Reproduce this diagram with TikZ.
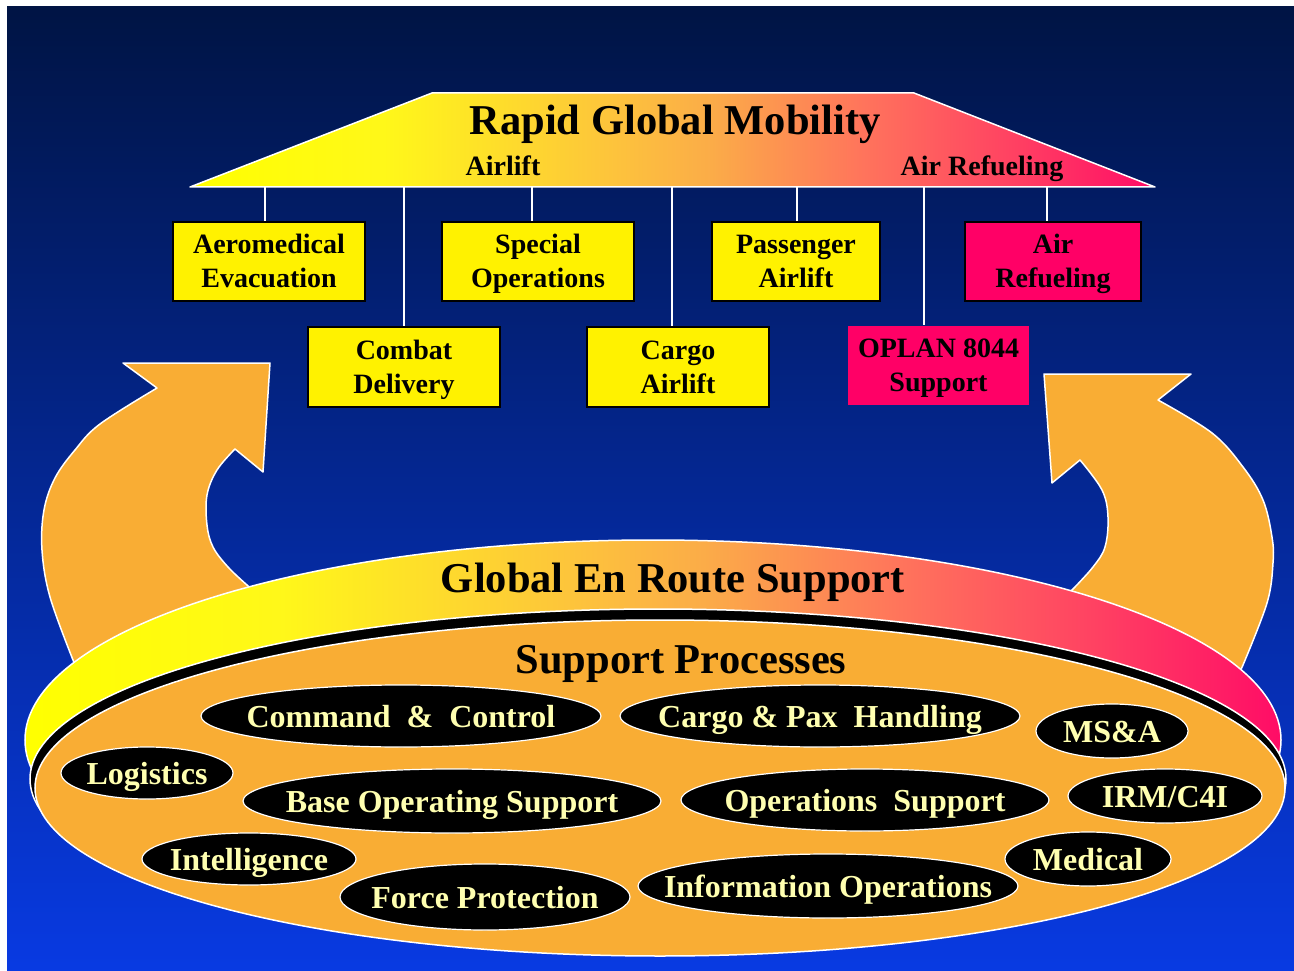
\documentclass[tikz,border=0pt]{standalone}
\usepackage{fontspec}
\setmainfont{Liberation Serif}
\usetikzlibrary{shapes.geometric}
\definecolor{bgtop}{RGB}{0,20,68}
\definecolor{bgbot}{RGB}{8,58,226}
\definecolor{orng}{RGB}{249,173,52}
\definecolor{pinkc}{RGB}{255,0,102}
\definecolor{cream}{RGB}{255,255,176}
\definecolor{gA}{RGB}{255,255,0}
\definecolor{gB}{RGB}{255,248,25}
\definecolor{gC}{RGB}{253,195,60}
\definecolor{gD}{RGB}{251,172,72}
\definecolor{gE}{RGB}{255,115,92}
\definecolor{gF}{RGB}{255,66,98}
\definecolor{gG}{RGB}{255,12,102}
\pgfdeclarehorizontalshading{warm}{100bp}{color(0bp)=(gA); color(25bp)=(gA); color(35bp)=(gB); color(47bp)=(gC); color(52bp)=(gD); color(60bp)=(gE); color(67.5bp)=(gF); color(75bp)=(gG); color(100bp)=(gG)}
\newcommand{\bxs}{\rule[-7.5pt]{0pt}{33.5pt}}
\begin{document}
\begin{tikzpicture}[x=1pt,y=-1pt,
  boxstyle/.style={draw=black, line width=2pt, fill=yellow, minimum height=79pt, inner sep=0pt, align=center, font=\fontsize{28}{34}\selectfont\bfseries},
  pinkbox/.style={boxstyle, fill=pinkc},
  pinkflat/.style={boxstyle, fill=pinkc, draw=none},
  procshape/.style={ellipse, draw=white, line width=1.2pt, fill=black, inner sep=0pt},
  proctext/.style={text=cream, inner sep=0pt, anchor=base, font=\fontsize{32}{36}\selectfont\bfseries},
  bigarrow/.style={fill=orng, draw=white, line width=1.5pt, line join=round},
  wire/.style={draw=white, line width=1.2pt},
  title/.style={font=\fontsize{42.5}{48}\selectfont\bfseries, text=black, inner sep=0pt, anchor=base},
  sub/.style={font=\fontsize{28}{34}\selectfont\bfseries, text=black, inner sep=0pt, anchor=base}
]
\useasboundingbox (0,0) rectangle (1294,971);
\fill[white] (0,0) rectangle (1294,971);
\shade[top color=bgtop, bottom color=bgbot] (7,7) rectangle (1294,971);

% big curved arrows
\filldraw[bigarrow] (123,363) -- (270,363) -- (263,472) -- (235,449)
  -- plot[smooth, tension=0.6] coordinates {(235,449) (217,470) (207,495) (207,525) (213,547) (228,567) (247,585)}
  -- (290,625) -- (95,712) -- (73,660)
  -- plot[smooth, tension=0.6] coordinates {(73,660) (50,597) (42,550) (44,510) (55,478) (75,450) (100,424) (157,388)}
  -- cycle;
\filldraw[bigarrow] (1191,374) -- (1044,374) -- (1052,483) -- (1080,460)
  -- plot[smooth, tension=0.6] coordinates {(1080,460) (1102,490) (1108,517) (1105,547) (1093,567) (1073,589)}
  -- (1040,620) -- (1222,712) -- (1243,665)
  -- plot[smooth, tension=0.6] coordinates {(1243,665) (1267,603) (1273,563) (1272,537) (1263,500) (1243,467) (1212,433) (1158,400)}
  -- cycle;

% disk
\shade[shading=warm] (653,740) ellipse [x radius=628, y radius=200];
\draw[white, line width=1.5pt] (653,740) ellipse [x radius=628, y radius=200];
\filldraw[fill=black, draw=white, line width=1.5pt] (658,779) ellipse [x radius=628, y radius=170];
\filldraw[fill=orng, draw=white, line width=1.5pt] (660,788) ellipse [x radius=625, y radius=168];

\node[title] (gers) at (673,592) {Global En Route Support};
\node[title] (sp) at (681,673) {Support Processes};

% support process ellipses
\node[procshape, minimum width=400pt, minimum height=62pt] (cc) at (401,716) {};
\node[procshape, minimum width=400pt, minimum height=62pt] (cph) at (820,716) {};
\node[procshape, minimum width=152pt, minimum height=54pt] (msa) at (1112,731) {};
\node[procshape, minimum width=172pt, minimum height=52pt] (log) at (147,773) {};
\node[procshape, minimum width=418pt, minimum height=64pt] (bos) at (452,801) {};
\node[procshape, minimum width=368pt, minimum height=62pt] (ops) at (865,800) {};
\node[procshape, minimum width=194pt, minimum height=54pt] (irm) at (1165,796) {};
\node[procshape, minimum width=214pt, minimum height=52pt] (intel) at (249,859) {};
\node[procshape, minimum width=166pt, minimum height=54pt] (med) at (1088,859) {};
\node[procshape, minimum width=290pt, minimum height=66pt] (fp) at (485,897) {};
\node[procshape, minimum width=380pt, minimum height=64pt] (io) at (828,886) {};

\node[proctext] at ([yshift=-11pt]cc.center) {Command\ \ \&\ \ Control};
\node[proctext] at ([yshift=-11pt]cph.center) {Cargo \& Pax\ \ Handling};
\node[proctext] at ([yshift=-11pt]msa.center) {MS\&A};
\node[proctext] at ([yshift=-11pt]log.center) {Logistics};
\node[proctext] at ([yshift=-11pt]bos.center) {Base Operating Support};
\node[proctext] at ([yshift=-11pt]ops.center) {Operations\ \ Support};
\node[proctext] at ([yshift=-11pt]irm.center) {IRM/C4I};
\node[proctext] at ([yshift=-11pt]intel.center) {Intelligence};
\node[proctext] at ([yshift=-11pt]med.center) {Medical};
\node[proctext] at ([yshift=-11pt]fp.center) {Force Protection};
\node[proctext] at ([yshift=-11pt]io.center) {Information Operations};

% roof
\shade[shading=warm] (190,187) -- (432,93) -- (914,93) -- (1155,187) -- cycle;
\draw[white, line width=1.5pt, line join=round] (190,187) -- (432,93) -- (914,93) -- (1155,187) -- cycle;
\node[title] (rgm) at (675,135) {Rapid Global Mobility};
\node[sub] (al) at (503,176) {Airlift};
\node[sub] (ar) at (982,176) {Air Refueling};

% boxes
\node[boxstyle, minimum width=192pt] (aero) at (269,261) {\bxs Aeromedical\\\bxs Evacuation};
\node[boxstyle, minimum width=192pt] (spec) at (538,261) {\bxs Special\\\bxs Operations};
\node[boxstyle, minimum width=168pt] (pass) at (796,261) {\bxs Passenger\\\bxs Airlift};
\node[pinkbox, minimum width=176pt] (refuel) at (1053,261) {\bxs Air\\\bxs Refueling};
\node[boxstyle, minimum width=192pt, minimum height=80pt] (combat) at (404,367) {\bxs Combat\\\bxs Delivery};
\node[boxstyle, minimum width=182pt, minimum height=80pt] (cargo) at (678,367) {\bxs Cargo\\\bxs Airlift};
\node[pinkflat, minimum width=181pt] (oplan) at (938.5,365.5) {\bxs OPLAN 8044\\\bxs Support};

% connectors
\coordinate (t1) at (265,187);
\coordinate (t2) at (404,187);
\coordinate (t3) at (532,187);
\coordinate (t4) at (672,187);
\coordinate (t5) at (797,187);
\coordinate (t6) at (924,187);
\coordinate (t7) at (1047,187);
\draw[wire] (t1) -- (t1 |- aero.north);
\draw[wire] (t2) -- (t2 |- combat.north);
\draw[wire] (t3) -- (t3 |- spec.north);
\draw[wire] (t4) -- (t4 |- cargo.north);
\draw[wire] (t5) -- (t5 |- pass.north);
\draw[wire] (t6) -- (t6 |- oplan.north);
\draw[wire] (t7) -- (t7 |- refuel.north);
\end{tikzpicture}
\end{document}
